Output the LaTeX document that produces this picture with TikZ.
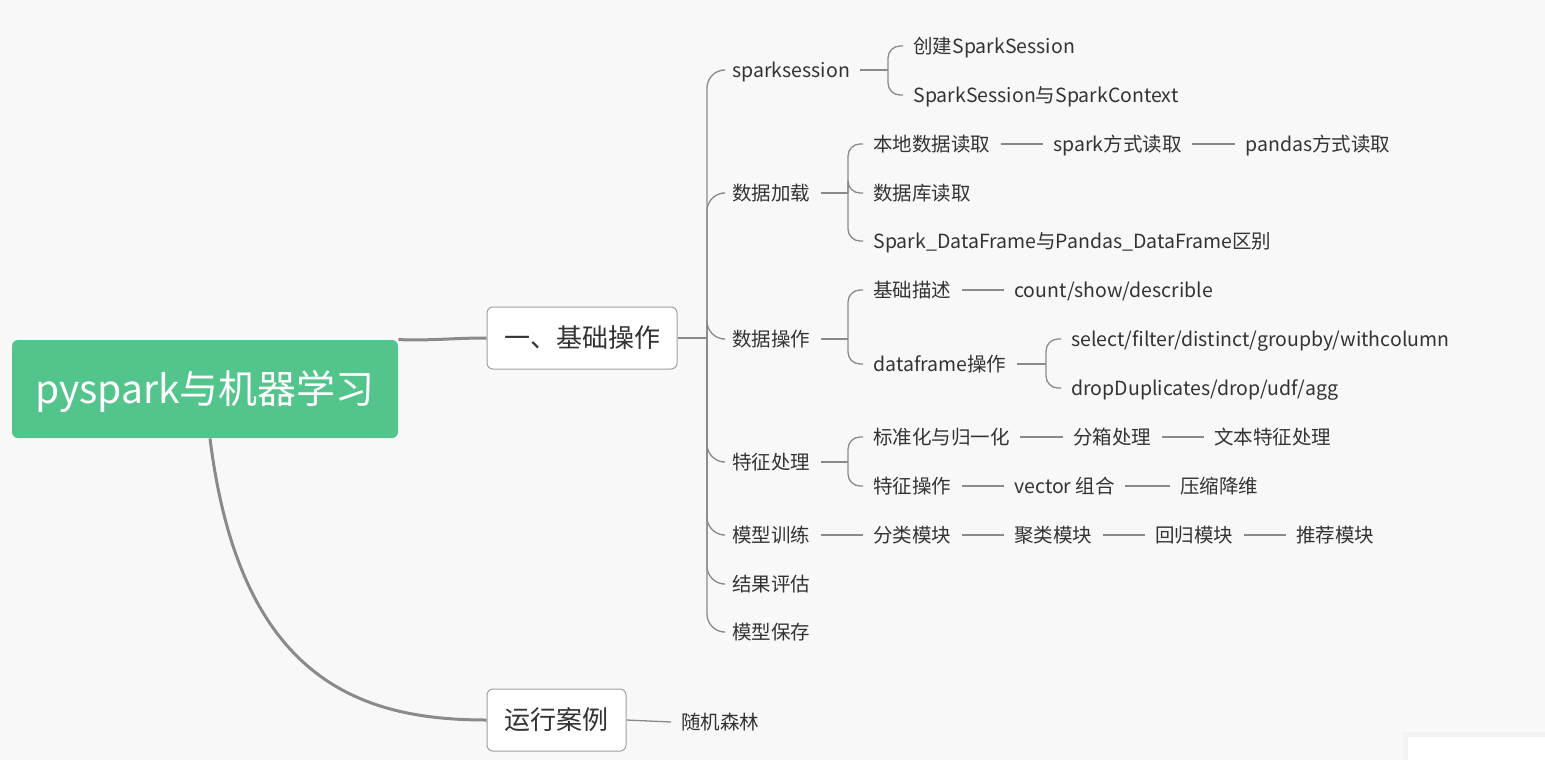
\documentclass[tikz,border=0pt]{standalone}
\usepackage{fontspec}
\setmainfont{Noto Sans CJK SC}
\usetikzlibrary{backgrounds}
\definecolor{bgc}{HTML}{F8F8F8}
\definecolor{rootgreen}{HTML}{52C48C}
\definecolor{txt}{HTML}{333333}
\definecolor{lnc}{HTML}{8A8A8A}
\definecolor{boxborder}{HTML}{A0A0A0}
\begin{document}
\begin{tikzpicture}[x=0.5pt,y=-0.5pt,
  lbl/.style={anchor=west, inner xsep=5pt, inner ysep=0pt, text height=8.2pt, text depth=1pt,
              font=\fontsize{9.75pt}{11pt}\selectfont, text=txt},
  mainbox/.style={draw=boxborder, line width=0.5pt, fill=white, rounded corners=3pt,
              minimum height=31pt, inner xsep=0pt, text height=11pt, text depth=1.2pt,
              font=\fontsize{13pt}{15pt}\selectfont, text=txt},
  rootbox/.style={fill=rootgreen, rounded corners=3pt, minimum width=193pt, minimum height=49pt,
              text height=16pt, text depth=1.5pt, font=\fontsize{19.5pt}{22pt}\selectfont, text=white},
  conn/.style={draw=lnc, line width=0.65pt},
  trunk/.style={conn, rounded corners=9pt},
  brace/.style={conn, rounded corners=6pt},
  thick conn/.style={draw=lnc, line width=1.5pt}
]
\useasboundingbox (0,0) rectangle (1545,760);

% ---------- nodes ----------
\node[rootbox] (root) at (205,389) {pyspark与机器学习};
\node[mainbox, minimum width=95pt] (b1) at (582,338) {一、基础操作};
\node[mainbox, minimum width=69.5pt] (b2) at (556.5,720) {运行案例};

\node[lbl] (ss)   at (722,70)  {sparksession};
\node[lbl] (ss1)  at (903,46)  {创建SparkSession};
\node[lbl] (ss2)  at (903,95)  {SparkSession与SparkContext};

\node[lbl] (dl)   at (722,193) {数据加载};
\node[lbl] (dl1)  at (863,144) {本地数据读取};
\node[lbl] (dl1a) at (1043,144) {spark方式读取};
\node[lbl] (dl1b) at (1235,144) {pandas方式读取};
\node[lbl] (dl2)  at (863,193) {数据库读取};
\node[lbl] (dl3)  at (863,241) {Spark\_DataFrame与Pandas\_DataFrame区别};

\node[lbl] (op)   at (722,339) {数据操作};
\node[lbl] (op1)  at (863,290) {基础描述};
\node[lbl] (op1a) at (1004,290) {count/show/describle};
\node[lbl] (op2)  at (863,364) {dataframe操作};
\node[lbl] (op2a) at (1061,339) {select/filter/distinct/groupby/withcolumn};
\node[lbl] (op2b) at (1061,388) {dropDuplicates/drop/udf/agg};

\node[lbl] (fe)   at (722,462) {特征处理};
\node[lbl] (fe1)  at (863,437) {标准化与归一化};
\node[lbl] (fe1a) at (1063,437) {分箱处理};
\node[lbl] (fe1b) at (1204,437) {文本特征处理};
\node[lbl] (fe2)  at (863,486) {特征操作};
\node[lbl] (fe2a) at (1004,486) {vector 组合};
\node[lbl] (fe2b) at (1170,486) {压缩降维};

\node[lbl] (mt)   at (722,535) {模型训练};
\node[lbl] (mt1)  at (863,535) {分类模块};
\node[lbl] (mt2)  at (1004,535) {聚类模块};
\node[lbl] (mt3)  at (1145,535) {回归模块};
\node[lbl] (mt4)  at (1286,535) {推荐模块};

\node[lbl] (ev)   at (722,584) {结果评估};
\node[lbl] (sv)   at (722,632) {模型保存};

\node[lbl] (rf)   at (671,722) {随机森林};

% ---------- junctions ----------
\coordinate (j1) at (707,338);
\coordinate (j2) at (888,70);
\coordinate (j3) at (848,193);
\coordinate (j4) at (848,339);
\coordinate (j5) at (1046,364);
\coordinate (j6) at (848,462);

% ---------- background & connectors ----------
\begin{scope}[on background layer]
  \fill[bgc] (0,0) rectangle (1545,760);
  \fill[black!5] (1403,732) rectangle (1545,760);
  \fill[white] (1408,737) rectangle (1545,760);

  \draw[thick conn] (root.north east) to[out=-2,in=180] (b1.west);
  \draw[thick conn] ([xshift=2.5pt]root.south) .. controls (240,680) and (360,720) .. (b2.west);

  \draw[conn] (b1.east) -- (j1);
  \foreach \c in {ss,dl,op,fe,mt,ev,sv}
    \draw[trunk] (j1) |- (\c.west);

  \draw[conn] (ss.east) -- (j2);
  \foreach \c in {ss1,ss2} \draw[brace] (j2) |- (\c.west);

  \draw[conn] (dl.east) -- (j3);
  \foreach \c in {dl1,dl2,dl3} \draw[brace] (j3) |- (\c.west);
  \draw[conn] (dl1.east) -- (dl1a.west);
  \draw[conn] (dl1a.east) -- (dl1b.west);

  \draw[conn] (op.east) -- (j4);
  \foreach \c in {op1,op2} \draw[brace] (j4) |- (\c.west);
  \draw[conn] (op1.east) -- (op1a.west);
  \draw[conn] (op2.east) -- (j5);
  \foreach \c in {op2a,op2b} \draw[brace] (j5) |- (\c.west);

  \draw[conn] (fe.east) -- (j6);
  \foreach \c in {fe1,fe2} \draw[brace] (j6) |- (\c.west);
  \draw[conn] (fe1.east) -- (fe1a.west);
  \draw[conn] (fe1a.east) -- (fe1b.west);
  \draw[conn] (fe2.east) -- (fe2a.west);
  \draw[conn] (fe2a.east) -- (fe2b.west);

  \draw[conn] (mt.east) -- (mt1.west);
  \draw[conn] (mt1.east) -- (mt2.west);
  \draw[conn] (mt2.east) -- (mt3.west);
  \draw[conn] (mt3.east) -- (mt4.west);

  \draw[conn] (b2.east) -- (rf.west);
\end{scope}
\end{tikzpicture}
\end{document}
